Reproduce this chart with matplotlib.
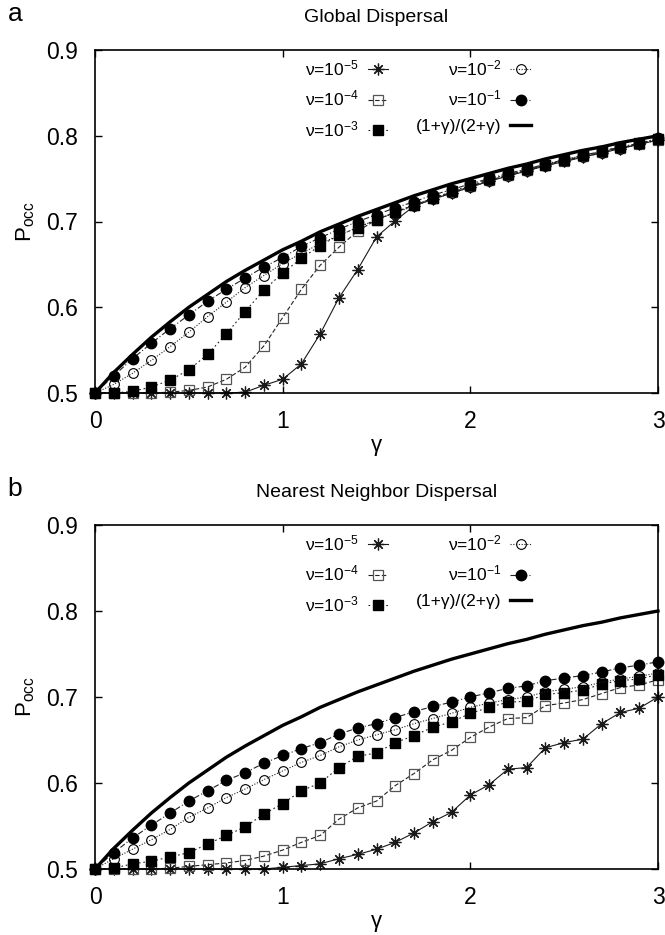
import matplotlib
matplotlib.use("Agg")
import matplotlib.pyplot as plt

plt.rcParams['font.family'] = ['Liberation Sans', 'DejaVu Sans']
plt.rcParams['mathtext.fontset'] = 'custom'
plt.rcParams['mathtext.rm'] = 'Liberation Sans'
plt.rcParams['mathtext.it'] = 'Liberation Sans'

gamma = [0.0, 0.1, 0.2, 0.3, 0.4, 0.5, 0.6, 0.7, 0.8, 0.9, 1.0,
         1.1, 1.2, 1.3, 1.4, 1.5, 1.6, 1.7, 1.8, 1.9, 2.0,
         2.1, 2.2, 2.3, 2.4, 2.5, 2.6, 2.7, 2.8, 2.9, 3.0]

# (1+g)/(2+g) read at the same gamma points
theory = [0.500, 0.524, 0.545, 0.565, 0.583, 0.600, 0.615, 0.630, 0.643, 0.655, 0.667,
          0.677, 0.688, 0.697, 0.706, 0.714, 0.722, 0.730, 0.737, 0.744, 0.750,
          0.756, 0.762, 0.767, 0.773, 0.778, 0.783, 0.787, 0.792, 0.796, 0.800]

# panel a: global dispersal
glob_nu5 = [0.500, 0.500, 0.500, 0.500, 0.500, 0.500, 0.500, 0.500, 0.501, 0.509, 0.516,
            0.534, 0.569, 0.611, 0.644, 0.682, 0.701, 0.718, 0.726, 0.733, 0.740,
            0.747, 0.753, 0.759, 0.765, 0.770, 0.775, 0.780, 0.785, 0.790, 0.795]
glob_nu4 = [0.500, 0.500, 0.500, 0.500, 0.501, 0.503, 0.507, 0.516, 0.530, 0.555, 0.588,
            0.621, 0.649, 0.670, 0.689, 0.702, 0.711, 0.719, 0.727, 0.734, 0.741,
            0.748, 0.754, 0.760, 0.766, 0.771, 0.776, 0.781, 0.786, 0.790, 0.795]
glob_nu3 = [0.500, 0.500, 0.502, 0.507, 0.515, 0.527, 0.545, 0.569, 0.595, 0.620, 0.640,
            0.657, 0.672, 0.684, 0.693, 0.702, 0.711, 0.719, 0.727, 0.735, 0.742,
            0.749, 0.755, 0.761, 0.766, 0.772, 0.777, 0.782, 0.787, 0.791, 0.796]
glob_nu2 = [0.500, 0.510, 0.523, 0.538, 0.554, 0.571, 0.589, 0.606, 0.623, 0.637, 0.651,
            0.663, 0.674, 0.684, 0.693, 0.702, 0.710, 0.718, 0.726, 0.733, 0.740,
            0.747, 0.753, 0.759, 0.765, 0.770, 0.775, 0.780, 0.785, 0.790, 0.796]
glob_nu1 = [0.500, 0.520, 0.540, 0.558, 0.575, 0.591, 0.607, 0.621, 0.634, 0.647, 0.658,
            0.671, 0.681, 0.691, 0.700, 0.708, 0.716, 0.723, 0.731, 0.737, 0.744,
            0.750, 0.756, 0.761, 0.767, 0.772, 0.777, 0.782, 0.787, 0.791, 0.797]

# panel b: nearest neighbor dispersal
nn_nu5 = [0.500, 0.500, 0.500, 0.500, 0.500, 0.500, 0.500, 0.500, 0.500, 0.500, 0.502,
          0.504, 0.506, 0.512, 0.517, 0.523, 0.531, 0.542, 0.555, 0.566, 0.586,
          0.598, 0.616, 0.618, 0.641, 0.647, 0.651, 0.669, 0.682, 0.687, 0.700]
nn_nu4 = [0.500, 0.500, 0.500, 0.500, 0.501, 0.503, 0.505, 0.507, 0.510, 0.515, 0.522,
          0.531, 0.539, 0.558, 0.571, 0.579, 0.597, 0.611, 0.627, 0.638, 0.653,
          0.665, 0.675, 0.676, 0.690, 0.693, 0.697, 0.704, 0.711, 0.714, 0.720]
nn_nu3 = [0.500, 0.501, 0.506, 0.509, 0.514, 0.519, 0.529, 0.539, 0.549, 0.564, 0.576,
          0.591, 0.600, 0.618, 0.631, 0.635, 0.647, 0.655, 0.665, 0.671, 0.681,
          0.688, 0.694, 0.695, 0.703, 0.705, 0.708, 0.715, 0.719, 0.721, 0.726]
nn_nu2 = [0.500, 0.512, 0.523, 0.534, 0.546, 0.560, 0.571, 0.583, 0.593, 0.604, 0.614,
          0.624, 0.632, 0.642, 0.650, 0.656, 0.662, 0.669, 0.675, 0.681, 0.688,
          0.693, 0.697, 0.700, 0.706, 0.709, 0.712, 0.717, 0.721, 0.724, 0.728]
nn_nu1 = [0.500, 0.519, 0.536, 0.551, 0.565, 0.579, 0.591, 0.603, 0.612, 0.623, 0.632,
          0.640, 0.647, 0.657, 0.664, 0.669, 0.676, 0.683, 0.689, 0.694, 0.700,
          0.705, 0.710, 0.713, 0.719, 0.722, 0.725, 0.729, 0.734, 0.737, 0.741]

labels = ['ν=10$^{-5}$', 'ν=10$^{-4}$', 'ν=10$^{-3}$', 'ν=10$^{-2}$', 'ν=10$^{-1}$',
          '(1+γ)/(2+γ)']

W, H = 665, 935
fig = plt.figure(figsize=(W / 100, H / 100), dpi=100)
ax_a = fig.add_axes([95 / W, (H - 393) / H, 563 / W, 343 / H])
ax_b = fig.add_axes([95 / W, (H - 869) / H, 563 / W, 344 / H])


def draw(ax, series, title, letter):
    lw = 0.8
    s5, s4, s3, s2, s1 = series
    ax.plot(gamma, s5, color='#1a1a1a', lw=lw, ls='-', marker=(8, 2, 0), ms=8.5,
            mew=0.9, mec='#1a1a1a', label=labels[0])
    ax.plot(gamma, s4, color='#222222', lw=lw, ls=(0, (4, 2)), marker='s', ms=7.5,
            mfc='none', mec='#555555', mew=0.9, label=labels[1])
    ax.plot(gamma, s3, color='#222222', lw=lw, ls=(0, (1.5, 2.5)), marker='s', ms=6.5,
            mfc='black', mec='black', label=labels[2])
    ax.plot(gamma, s2, color='#222222', lw=lw, ls=(0, (1, 1.5)), marker='o', ms=7,
            mfc='none', mec='black', mew=0.8, label=labels[3])
    ax.plot(gamma, s1, color='#222222', lw=lw, ls=(0, (5, 2, 1, 2)), marker='o', ms=7.5,
            mfc='black', mec='black', label=labels[4])
    ax.plot(gamma, theory, color='black', lw=2.4, ls='-', label=labels[5])

    ax.set_xlim(0, 3)
    ax.set_ylim(0.5, 0.9)
    ax.set_xticks([0, 1, 2, 3])
    ax.set_yticks([0.5, 0.6, 0.7, 0.8, 0.9])
    ax.set_yticklabels(['0.5', '0.6', '0.7', '0.8', '0.9'])
    ax.tick_params(direction='in', top=True, right=True, length=5, width=1,
                   labelsize=16.5, pad=12)
    for sp in ax.spines.values():
        sp.set_linewidth(1.2)
    ax.set_xlabel('γ', fontsize=16, labelpad=2)
    ax.set_ylabel('P$_{\\mathrm{occ}}$', fontsize=16, labelpad=7)
    ax.text(0.5, 1 + 32 / 343, title, transform=ax.transAxes, ha='center', va='center',
            fontsize=14)
    ax.text(-80 / 563, 1 + 36 / 343, letter, transform=ax.transAxes, ha='center',
            va='center', fontsize=19)
    for line in ax.lines:
        line.set_clip_on(False)

    ax.legend(ncol=2, markerfirst=False, frameon=False, loc='upper left',
              bbox_to_anchor=(210 / 563, 0.975), borderpad=0, borderaxespad=0,
              fontsize=12.5, handlelength=1.2, handletextpad=0.5, columnspacing=1.6,
              labelspacing=0.6, numpoints=1)


draw(ax_a, [glob_nu5, glob_nu4, glob_nu3, glob_nu2, glob_nu1], 'Global Dispersal', 'a')
draw(ax_b, [nn_nu5, nn_nu4, nn_nu3, nn_nu2, nn_nu1], 'Nearest Neighbor Dispersal', 'b')

fig.savefig('out.png', dpi=100)
